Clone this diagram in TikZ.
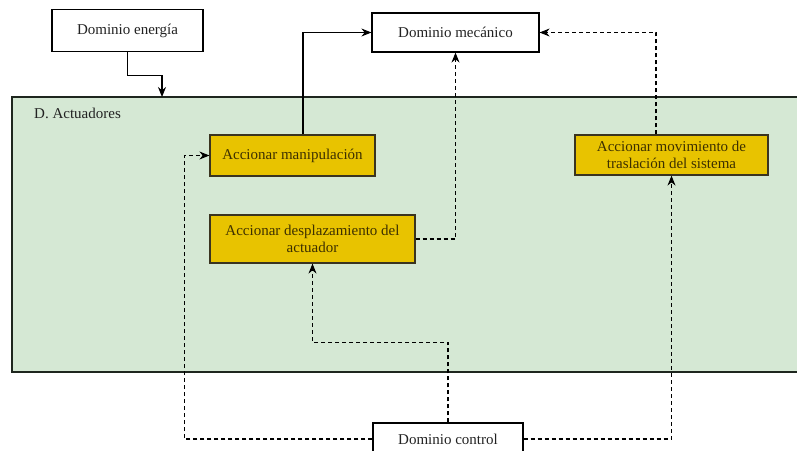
\documentclass[tikz,border=0pt]{standalone}
\usepackage{fontspec}
\setmainfont{Liberation Serif}
\usetikzlibrary{arrows.meta}
\definecolor{actfill}{HTML}{D5E8D4}
\definecolor{actdraw}{HTML}{1E261E}
\definecolor{goldfill}{HTML}{E8C300}
\definecolor{golddraw}{HTML}{3A3420}
\definecolor{goldtext}{HTML}{3D3000}
\definecolor{txt}{HTML}{222222}
\tikzset{
  basebox/.style={font=\fontsize{15}{17.5}\selectfont, align=center, inner sep=0pt},
  domainbox/.style={basebox, draw=black, line width=1.2pt, fill=white, text=txt},
  taskbox/.style={basebox, draw=golddraw, line width=1.2pt, fill=goldfill, text=goldtext},
  groupbox/.style={draw=actdraw, line width=2pt, fill=actfill, inner sep=0pt},
  arr/.style={line width=1.2pt, -{Stealth[length=10pt,width=8pt]}},
  darr/.style={arr, dash pattern=on 4pt off 3pt},
}
\begin{document}
\begin{tikzpicture}[x=1pt,y=-1pt]
  \useasboundingbox (0,0) rectangle (797,450);
  \clip (0,0) rectangle (797,450);
  \fill[white] (0,0) rectangle (797,450);

  % actuator domain container
  \node[groupbox, minimum width=798pt, minimum height=275pt] (act) at (411,234.5) {};
  \node[basebox, anchor=west, text=txt] (actlbl) at (34,113) {D. Actuadores};

  % outer domains
  \node[domainbox, minimum width=151pt, minimum height=42pt] (energia) at (127.5,30.5) {Dominio energía};
  \node[domainbox, minimum width=167pt, minimum height=39pt] (mecanico) at (455.5,32.5) {Dominio mecánico};
  \node[domainbox, minimum width=150pt, minimum height=32pt] (control) at (448,439) {Dominio control};

  % actuator tasks
  \node[taskbox, minimum width=165pt, minimum height=41pt] (manip) at (292.5,155.5) {Accionar manipulación};
  \node[taskbox, minimum width=205pt, minimum height=48pt] (desplaz) at (312.5,239) {Accionar desplazamiento del\\actuador};
  \node[taskbox, minimum width=193pt, minimum height=40pt] (trasl) at (671.5,155) {Accionar movimiento de\\traslación del sistema};

  \coordinate (ein) at (162,97);

  % energy and mechanical links
  \draw[arr] (energia.south) -- ++(0,23) -| (ein);
  \draw[arr] ([xshift=10.5pt]manip.north) |- (mecanico.west);
  \draw[darr] (desplaz.east) -| (mecanico.south);
  \draw[darr] ([xshift=-15.5pt]trasl.north) |- (mecanico.east);

  % control links
  \draw[darr] (control.west) -- ++(-188,0) |- (manip.west);
  \draw[darr] (control.north) -- ++(0,-80) -| (desplaz.south);
  \draw[darr] (control.east) -| (trasl.south);
\end{tikzpicture}
\end{document}
